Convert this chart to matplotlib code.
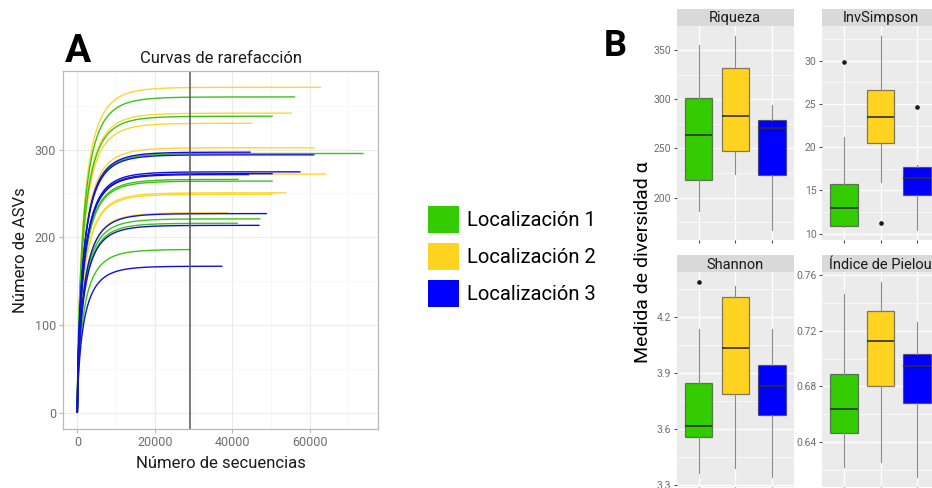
import numpy as np
import matplotlib
matplotlib.use("Agg")
import matplotlib.pyplot as plt
from matplotlib.patches import Patch
from matplotlib.ticker import MultipleLocator

plt.rcParams['font.family'] = ['Roboto', 'DejaVu Sans']

# ---------------------------------------------------------------- data
locations = ["Localización 1", "Localización 2", "Localización 3"]
fill_colors = ["#33CC00", "#FFD320", "#0000FF"]
line_colors = ["#3BC416", "#FFD530", "#1010D8"]

# rarefaction curves: total reads and observed ASVs of each sample
depth_loc1 = [56300, 50500, 74000, 41700, 50500, 47300, 41500, 29300]
asv_loc1 = [360, 338, 295.5, 266, 264, 221, 216, 186]
depth_loc2 = [63000, 55400, 45100, 61400, 64300, 54000, 50500, 38900]
asv_loc2 = [371, 341.5, 330, 302, 272, 250.7, 249, 228]
depth_loc3 = [44800, 61300, 57700, 50500, 44400, 49000, 47100, 37500]
asv_loc3 = [297, 294, 274.6, 272.5, 271.5, 227, 213.6, 167]
half_depth = 1800          # reads at which curves bend
curve_shape = 0.7
rarefaction_depth = 29000  # subsampling depth

# alpha-diversity summaries per location: q1, median, q3, whisker low/high, outliers
metrics = ["Riqueza", "InvSimpson", "Shannon", "Índice de Pielou"]
riq_q1 = [217.4, 247, 223]
riq_med = [264, 283, 271]
riq_q3 = [302, 332, 279]
riq_lo = [186.3, 224, 166.6]
riq_hi = [355.8, 365, 294]
riq_out = [[], [], []]

inv_q1 = [10.84, 20.5, 14.5]
inv_med = [12.96, 23.45, 16.4]
inv_q3 = [15.7, 26.6, 17.7]
inv_lo = [10.8, 15.96, 10.38]
inv_hi = [21.2, 32.9, 17.97]
inv_out = [[29.9], [11.2], [24.7]]

sha_q1 = [3.556, 3.786, 3.673]
sha_med = [3.616, 4.031, 3.83]
sha_q3 = [3.843, 4.304, 3.94]
sha_lo = [3.36, 3.387, 3.339]
sha_hi = [4.133, 4.366, 4.133]
sha_out = [[4.385], [], []]

pie_q1 = [0.6463, 0.6805, 0.668]
pie_med = [0.6637, 0.713, 0.6944]
pie_q3 = [0.6887, 0.7342, 0.7036]
pie_lo = [0.6222, 0.6254, 0.6146]
pie_hi = [0.7467, 0.7552, 0.7262]
pie_out = [[], [], []]

# ---------------------------------------------------------------- layout
W, H = 932, 488
fig = plt.figure(figsize=(W / 100, H / 100), dpi=100)


def rect(x0, y0, x1, y1):
    """Figure rectangle from pixel corners measured from the top-left."""
    return [x0 / W, 1 - y1 / H, (x1 - x0) / W, (y1 - y0) / H]


# ---------------------------------------------------------------- panel A
axA = fig.add_axes(rect(63, 71, 378, 429))
axA.set_facecolor("white")

groups = [
    (depth_loc2, asv_loc2, line_colors[1]),
    (depth_loc1, asv_loc1, line_colors[0]),
    (depth_loc3, asv_loc3, line_colors[2]),
]
for depths, asvs, col in groups:
    for d, s in zip(depths, asvs):
        n = np.linspace(0, d, 800)
        sat = 1 - np.exp(-(n / half_depth) ** curve_shape)
        sat_end = 1 - np.exp(-(d / half_depth) ** curve_shape)
        axA.plot(n, s * sat / sat_end, color=col, lw=1.0, solid_capstyle="butt")

axA.axvline(rarefaction_depth, color="#555555", lw=1.1)

all_depth = depth_loc1 + depth_loc2 + depth_loc3
all_asv = asv_loc1 + asv_loc2 + asv_loc3
xmax, ymax = max(all_depth), max(all_asv)
axA.set_xlim(-0.05 * xmax, 1.05 * xmax)
axA.set_ylim(-0.05 * ymax, 1.05 * ymax)
axA.xaxis.set_major_locator(MultipleLocator(20000))
axA.xaxis.set_minor_locator(MultipleLocator(10000))
axA.yaxis.set_major_locator(MultipleLocator(100))
axA.yaxis.set_minor_locator(MultipleLocator(50))
axA.grid(which="major", color="#EBEBEB", lw=0.8)
axA.grid(which="minor", color="#F4F4F4", lw=0.5)
axA.set_axisbelow(True)
for sp in axA.spines.values():
    sp.set_color("#B8B8B8")
    sp.set_linewidth(0.9)
axA.tick_params(which="major", length=3, color="#B8B8B8", labelcolor="#6E6E6E",
                labelsize=9, pad=2)
axA.tick_params(which="minor", length=0)
axA.set_title("Curvas de rarefacción", fontsize=12, color="#1A1A1A", pad=6)
axA.set_xlabel("Número de secuencias", fontsize=12, color="#1A1A1A", labelpad=5)
axA.set_ylabel("Número de ASVs", fontsize=12, color="#1A1A1A", labelpad=5)

fig.text(65 / W, 1 - 62 / H, "A", fontsize=28, fontweight="bold", ha="left",
         va="baseline", color="black")

# legend
handles = [Patch(facecolor=c, edgecolor="none") for c in fill_colors]
fig.legend(handles, locations, loc="upper left", bbox_to_anchor=(428 / W, 1 - 206 / H),
           frameon=False, fontsize=14.5, handlelength=1.54, handleheight=1.68,
           labelspacing=0.5, handletextpad=0.4, borderpad=0, borderaxespad=0)

# ---------------------------------------------------------------- panel B
fig.text(604 / W, 1 - 56 / H, "B", fontsize=26, fontweight="bold", ha="left",
         va="baseline", color="black")
fig.text(643 / W, 1 - 262 / H, "Medida de diversidad α", fontsize=14,
         rotation=90, ha="center", va="center", color="black")

cols_x = [(676.7, 793.8), (822.1, 938.9)]
rows_y = [(8.5, 26, 240), (255, 272.3, 487)]

facet_data = [
    (riq_q1, riq_med, riq_q3, riq_lo, riq_hi, riq_out, 50),
    (inv_q1, inv_med, inv_q3, inv_lo, inv_hi, inv_out, 5),
    (sha_q1, sha_med, sha_q3, sha_lo, sha_hi, sha_out, 0.3),
    (pie_q1, pie_med, pie_q3, pie_lo, pie_hi, pie_out, 0.04),
]

for k, (name, fd) in enumerate(zip(metrics, facet_data)):
    r, c = divmod(k, 2)
    x0, x1 = cols_x[c]
    s0, p0, p1 = rows_y[r]
    q1, med, q3, lo, hi, out, step = fd

    strip = fig.add_axes(rect(x0, s0, x1, p0))
    strip.set_facecolor("#D9D9D9")
    strip.set_xticks([])
    strip.set_yticks([])
    for sp in strip.spines.values():
        sp.set_visible(False)
    strip.text(0.5, 0.45, name, transform=strip.transAxes, ha="center", va="center",
               fontsize=10.5, color="#1A1A1A")

    ax = fig.add_axes(rect(x0, p0, x1, p1))
    ax.set_facecolor("#EBEBEB")
    stats = []
    for i in range(3):
        stats.append(dict(q1=q1[i], med=med[i], q3=q3[i], whislo=lo[i], whishi=hi[i],
                          fliers=out[i]))
    bp = ax.bxp(stats, positions=[1, 2, 3], widths=0.75, patch_artist=True,
                showcaps=False,
                boxprops=dict(edgecolor=(0.2, 0.2, 0.2, 0.6), linewidth=0.9),
                whiskerprops=dict(color="#8A8A8A", linewidth=0.8),
                medianprops=dict(color="#2E2E2E", linewidth=1.2),
                flierprops=dict(marker="o", markersize=2.3, markerfacecolor="#1A1A1A",
                                markeredgecolor="#1A1A1A"))
    for patch, col in zip(bp["boxes"], fill_colors):
        patch.set_facecolor(col)

    vals = lo + hi + [v for o in out for v in o]
    vmin, vmax = min(vals), max(vals)
    pad = 0.05 * (vmax - vmin)
    ax.set_ylim(vmin - pad, vmax + pad)
    ax.set_xlim(0.4, 3.6)
    ax.yaxis.set_major_locator(MultipleLocator(step))
    ax.yaxis.set_minor_locator(MultipleLocator(step / 2))
    ax.set_xticks([1, 2, 3])
    ax.set_xticklabels([])
    ax.grid(which="major", color="white", lw=0.9)
    ax.grid(which="minor", axis="y", color="white", lw=0.45)
    ax.set_axisbelow(True)
    for sp in ax.spines.values():
        sp.set_visible(False)
    ax.tick_params(which="major", length=2.5, color="#4D4D4D", labelcolor="#6E6E6E",
                   labelsize=7.5, pad=1.5)
    ax.tick_params(which="minor", length=0)

fig.savefig("out.png", dpi=100)
